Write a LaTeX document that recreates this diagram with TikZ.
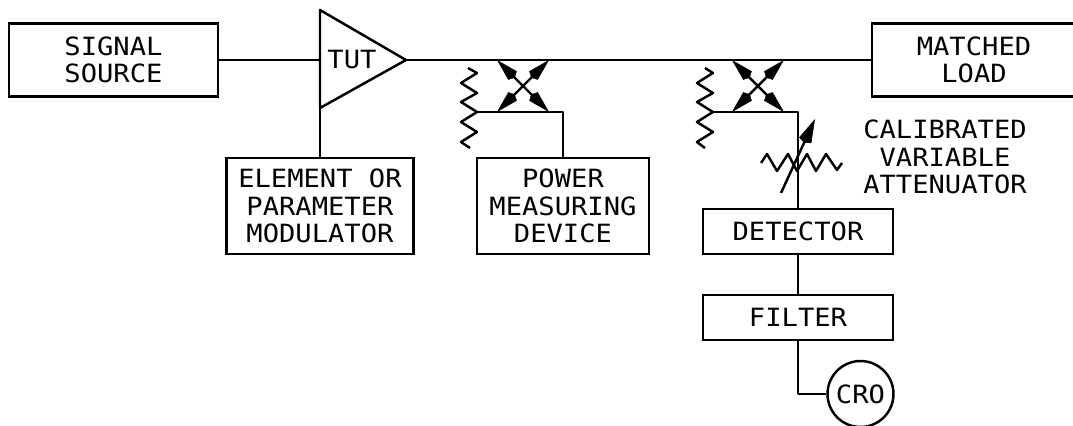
\documentclass[tikz,border=0pt]{standalone}
\usepackage{fontspec}
\setmonofont[FakeStretch=1.08]{DejaVu Sans Mono}
\usetikzlibrary{arrows.meta}
\tikzset{
  wire/.style={line width=1.4pt,line join=round},
  blocklabel/.style={font=\fontsize{14.3}{15.6}\selectfont\ttfamily,align=center,inner sep=0pt},
  block/.style={blocklabel,draw,line width=1.4pt},
  couplerarrow/.style={wire,{Kite[length=.5cm,width=.24cm,inset=.06cm,line width=.3pt]}-{Kite[length=.5cm,width=.24cm,inset=.06cm,line width=.3pt]}},
  tunearrow/.style={wire,-{Kite[length=.52cm,width=.27cm,inset=.05cm,line width=.3pt]}}
}

\begin{document}
\begin{tikzpicture}[x=0.02cm,y=-0.02cm]
  \useasboundingbox (0,0) rectangle (1073,426);

  % main line
  \node[block,minimum width=4.18cm,minimum height=1.46cm] (source) at (113.5,60) {SIGNAL\\SOURCE};
  \node[block,minimum width=4.08cm,minimum height=1.46cm] (load) at (974,60) {MATCHED\\LOAD};
  \coordinate (tutin) at (320,60);
  \coordinate (tutlow) at (320,108);
  \coordinate (tutout) at (406,60);
  \draw[wire] (320,10) -- (tutout) -- (tutlow) -- cycle;
  \node[blocklabel] (tut) at (352,60) {TUT};
  \draw[wire] (source) -- (tutin);
  \draw[wire] (tutout) -- (load);

  \node[block,minimum width=3.74cm,minimum height=1.92cm] (modulator) at (320,206)
    {ELEMENT OR\\PARAMETER\\MODULATOR};
  \draw[wire] (tutlow) -- (modulator);

  % first coupler
  \begin{scope}
    \coordinate (ca1) at (497,60);
    \coordinate (cb1) at (549,112);
    \coordinate (cc1) at (549,60);
    \coordinate (cd1) at (497,112);
    \coordinate (res1) at (477,112);
    \draw[couplerarrow] (ca1) -- (cb1);
    \draw[couplerarrow] (cc1) -- (cd1);
    \draw[wire] (468,68) -- (477,73) -- (461,83) -- (477,93) -- (461,102) -- (res1)
      -- (461,122) -- (477,132) -- (461,142) -- (470,148);
  \end{scope}
  \node[block,minimum width=3.44cm,minimum height=1.92cm] (power) at (563,206)
    {POWER\\MEASURING\\DEVICE};
  \draw[wire] (res1) -| (power);

  % second coupler
  \begin{scope}[xshift=4.7cm]
    \coordinate (ca2) at (497,60);
    \coordinate (cb2) at (549,112);
    \coordinate (cc2) at (549,60);
    \coordinate (cd2) at (497,112);
    \coordinate (res2) at (478,112);
    \draw[couplerarrow] (ca2) -- (cb2);
    \draw[couplerarrow] (cc2) -- (cd2);
    \draw[wire] (470,68) -- (478,73) -- (462,83) -- (478,93) -- (462,102) -- (res2)
      -- (462,122) -- (478,132) -- (462,142) -- (470,148);
  \end{scope}
  \node[block,minimum width=3.8cm,minimum height=.9cm] (detector) at (798,231.5) {DETECTOR};
  \node[block,minimum width=3.8cm,minimum height=.9cm] (filter) at (798,317.5) {FILTER};
  \node[block,circle,minimum size=1.32cm] (cro) at (860.5,394) {CRO};
  \draw[wire] (res2) -| (detector);
  \draw[wire] (detector) -- (filter);
  \draw[wire] (filter) |- (cro);

  % attenuator
  \coordinate (tunefrom) at (781,193);
  \coordinate (tuneto) at (815,119);
  \draw[wire] (761,163) -- (767,154) -- (777,171) -- (788,154) -- (797,171) -- (807,154)
    -- (816,171) -- (826,154) -- (837,170) -- (842,163);
  \draw[tunearrow] (tunefrom) -- (tuneto);
  \node[blocklabel] (attlabel) at (945,157) {CALIBRATED\\VARIABLE\\ATTENUATOR};
\end{tikzpicture}
\end{document}
